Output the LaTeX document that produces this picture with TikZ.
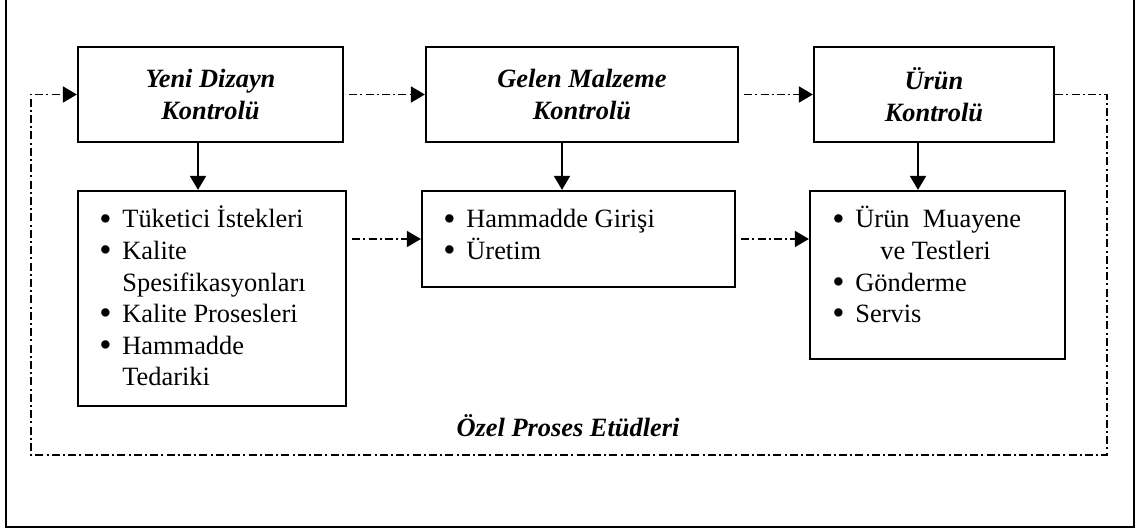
\documentclass[tikz,border=0pt]{standalone}
\usepackage{fontspec}
\setmainfont{Liberation Serif}
\usetikzlibrary{arrows.meta}

% bullet with a fixed-width box, and the matching hanging indent
\newcommand\bul{\makebox[11.5pt][l]{\raisebox{-1.1pt}{\fontsize{17.5pt}{0pt}\selectfont\textbullet}}}
\newcommand\ind{\hspace*{11.5pt}}

\begin{document}
\begin{tikzpicture}[x=0.5pt,y=-0.5pt,
  ctrl/.style={draw, line width=1.1pt, inner sep=0pt, align=center,
    font=\fontsize{13.2pt}{16pt}\selectfont\bfseries\itshape},
  flow/.style={draw, line width=1.1pt, inner sep=0pt},
  lst/.style={anchor=base west, inner sep=0pt,
    font=\fontsize{13.2pt}{15.8pt}\selectfont},
  solidarr/.style={line width=0.9pt, -{Triangle[length=7pt,width=8pt]}},
  dd/.style={line width=0.8pt, dash pattern=on 4pt off 1.6pt on 1pt off 1.6pt},
  ddarr/.style={dd, -{Triangle[length=7pt,width=8pt]}}
]
\useasboundingbox (0,0) rectangle (1139,528);
\fill[white] (0,0) rectangle (1139,528);

% outer frame
\draw[line width=1.2pt] (6,-0.8) rectangle (1134,527);

% control stages
\node[ctrl, minimum width=132.5pt, minimum height=47.5pt] (b1) at (210.5,94.5) {Yeni Dizayn\\Kontrolü};
\node[ctrl, minimum width=156pt, minimum height=47.5pt] (b2) at (582,94.5) {Gelen Malzeme\\Kontrolü};
\node[ctrl, minimum width=120pt, minimum height=47.5pt] (b3) at (934,94.5) {Ürün\\Kontrolü};

% activity boxes
\node[flow, minimum width=134pt, minimum height=107.5pt] (b4) at (212,298.5) {};
\node[flow, minimum width=156.5pt, minimum height=48pt] (b5) at (578.5,239) {};
\node[flow, minimum width=127.5pt, minimum height=84pt] (b6) at (937.5,275) {};

\node[lst] (l4) at (99,228) {\begin{tabular}[t]{@{}l@{}}
  \bul Tüketici İstekleri\\
  \bul Kalite\\
  \ind Spesifikasyonları\\
  \bul Kalite Prosesleri\\
  \bul Hammadde\\
  \ind Tedariki\end{tabular}};
\node[lst] (l5) at (443,228) {\begin{tabular}[t]{@{}l@{}}
  \bul Hammadde Girişi\\
  \bul Üretim\end{tabular}};
\node[lst] (l6) at (832,228) {\begin{tabular}[t]{@{}l@{}}
  \bul Ürün\ \ Muayene\\
  \ind\hspace*{12.5pt}ve Testleri\\
  \bul Gönderme\\
  \bul Servis\end{tabular}};

\node[font=\fontsize{13.2pt}{15.5pt}\selectfont\bfseries\itshape] (lbl) at (568,426) {Özel Proses Etüdleri};

% downward links
\coordinate (v1) at (198,0);
\coordinate (v2) at (562,0);
\coordinate (v3) at (918,0);
\draw[solidarr] (b1.south -| v1) -- (b4.north -| v1);
\draw[solidarr] (b2.south -| v2) -- (b5.north -| v2);
\draw[solidarr] (b3.south -| v3) -- (b6.north -| v3);

% forward flow
\draw[ddarr, shorten <=2.5pt] (b1.east) -- (b2.west);
\draw[ddarr, shorten <=2.5pt] (b2.east) -- (b3.west);
\draw[ddarr, shorten <=2.5pt] (b4.east |- b5.west) -- (b5.west);
\draw[ddarr, shorten <=2.5pt] (b5.east) -- (b6.west |- b5.east);

% feedback loop of special process studies
\coordinate (fr) at (1107,455);
\coordinate (fl) at (31,455);
\draw[ddarr] (b3.east) -| (fr) -- (fl) |- (b1.west);
\end{tikzpicture}
\end{document}
